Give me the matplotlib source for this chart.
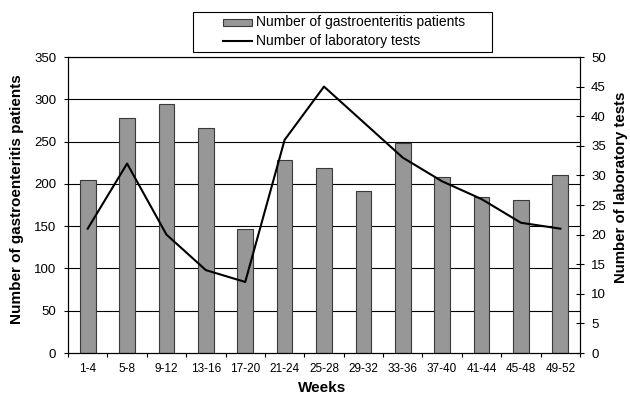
import matplotlib
matplotlib.use("Agg")
import matplotlib.pyplot as plt
from matplotlib.patches import Rectangle
from matplotlib.lines import Line2D
import numpy as np

plt.rcParams['font.family'] = ['Liberation Sans', 'DejaVu Sans']

weeks = ["1-4", "5-8", "9-12", "13-16", "17-20", "21-24", "25-28", "29-32",
         "33-36", "37-40", "41-44", "45-48", "49-52"]
patients = [205, 278, 295, 266, 147, 228, 219, 192, 248, 208, 185, 181, 211]
tests = [21, 32, 20, 14, 12, 36, 45, 39, 33, 29, 26, 22, 21]
label_bars = 'Number of gastroenteritis patients'
label_line = 'Number of laboratory tests'

W, H = 630, 401
fig = plt.figure(figsize=(W / 100, H / 100), dpi=100)


def fx(px):
    return px / W


def fy(py):
    return 1 - py / H


L, R, T, B = 68, 580, 57, 353
ax = fig.add_axes([fx(L), fy(B), fx(R - L), (B - T) / H])
x = np.arange(len(weeks))

for v in range(50, 351, 50):
    ax.axhline(v, color='black', lw=0.8, zorder=0)

bar_face, bar_edge = '#979797', '#3a3a3a'
ax.bar(x, patients, width=0.4, color=bar_face, edgecolor=bar_edge,
       linewidth=0.8, zorder=2)
ax.set_xlim(-0.5, len(weeks) - 0.5)
ax.set_ylim(0, 350)
ax.set_yticks(range(0, 351, 50))
ax.set_xticks(x)
ax.set_xticklabels(weeks, fontsize=8.5)
ax.tick_params(axis='y', labelsize=9.5, length=3, width=0.8, direction='out', pad=5.5)
ax.tick_params(axis='x', length=0, pad=7.5)
ax.set_xticks(np.arange(-0.5, len(weeks), 1), minor=True)
ax.tick_params(axis='x', which='minor', length=3, width=0.8, direction='out')
for s in ax.spines.values():
    s.set_linewidth(0.8)

ax2 = ax.twinx()
ax2.plot(x, tests, color='black', lw=1.5, zorder=3)
ax2.set_ylim(0, 50)
ax2.set_yticks(range(0, 51, 5))
ax2.tick_params(axis='y', labelsize=9.5, length=6, width=0.8, direction='inout', pad=5)
for s in ax2.spines.values():
    s.set_linewidth(0.8)

# axis titles
fig.text(fx(322), fy(388), 'Weeks', fontsize=11, fontweight='bold', ha='center', va='center')
fig.text(fx(17), fy(199), label_bars, fontsize=11, fontweight='bold',
         rotation=90, ha='center', va='center')
fig.text(fx(621), fy(187), label_line, fontsize=10.8, fontweight='bold',
         rotation=90, ha='center', va='center')

# legend box
fig.patches.append(Rectangle((fx(193), fy(52)), fx(492 - 193), (52 - 12) / H,
                             transform=fig.transFigure, facecolor='white',
                             edgecolor='black', linewidth=0.8))
fig.patches.append(Rectangle((fx(223), fy(25.5)), fx(29), 6.5 / H,
                             transform=fig.transFigure, facecolor=bar_face,
                             edgecolor=bar_edge, linewidth=0.8))
fig.lines.append(Line2D([fx(223), fx(252)], [fy(41), fy(41)],
                        transform=fig.transFigure, color='black', lw=1.5))
fig.text(fx(256), fy(22), label_bars, fontsize=10, ha='left', va='center')
fig.text(fx(256), fy(41), label_line, fontsize=10, ha='left', va='center')

fig.savefig('out.png', dpi=100)
